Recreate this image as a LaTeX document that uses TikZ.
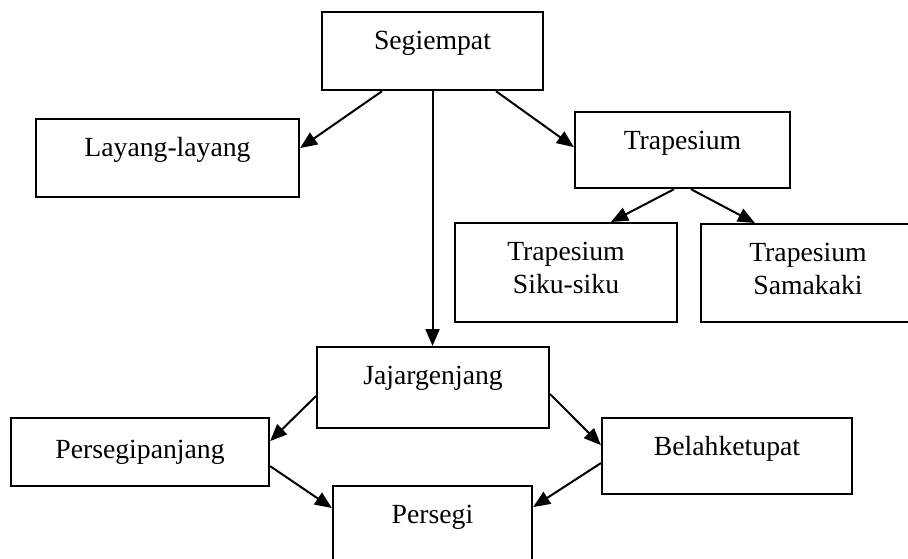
\documentclass[tikz,border=0pt]{standalone}
\usepackage{fontspec}
\setmainfont{Liberation Serif}
\usetikzlibrary{
		calc,
		positioning,
		arrows.meta
	}
\tikzset{
		>={Triangle[length=8.5pt,width=7pt]},
		kotak/.style={draw=black, line width=1.1pt, inner sep=0pt, anchor=north, align=center, text height=18.5pt, font=\fontsize{13.85}{16.5}\selectfont},
		panah/.style={->, line width=1pt}
	}
\begin{document}
\begin{tikzpicture}[x=0.5pt, y=-0.5pt]
		\useasboundingbox (0, 0) rectangle (908, 558);
		\begin{scope}
			\node[kotak, minimum width=110.5pt, text depth=20.5pt] (seg) at (432.5, 11) {Segiempat};
			\node[kotak, minimum width=131.5pt, text depth=20.5pt] (layang) at (167.5, 118) {Layang-layang};
			\node[kotak, minimum width=107.5pt, text depth=19.5pt] (trap) at (682.5, 111) {Trapesium};
			\node[kotak, minimum width=111pt, text height=35pt, text depth=14.5pt] (siku) at (566, 222) {Trapesium\\Siku-siku};
			\node[kotak, minimum width=107pt, text height=35pt, text depth=14pt] (sama) at (808, 223) {Trapesium\\Samakaki};
			\node[kotak, minimum width=116pt, text depth=22pt] (jajar) at (433, 346) {Jajargenjang};
			\node[kotak, minimum width=129pt, text height=20pt, text depth=14pt] (ppanjang) at (140, 417) {Persegipanjang};
			\node[kotak, minimum width=125pt, text depth=19.5pt] (belah) at (727, 417) {Belahketupat};
			\node[kotak, minimum width=99.5pt, text depth=31.5pt] (persegi) at (432.5, 485) {Persegi};
			\draw[panah] ([xshift=-25.25pt]seg.south) -- ([yshift=5pt]layang.east);
			\draw[panah] ([xshift=31.75pt]seg.south) -- ([yshift=1.5pt]trap.west);
			\draw[panah] (seg.south) -- (seg.south |- jajar.north);
			\draw[panah] ([xshift=-4.25pt]trap.south) -- ([xshift=22.5pt]siku.north);
			\draw[panah] ([xshift=4.25pt]trap.south) -- ([xshift=27.5pt]sama.north west);
			\draw[panah] ([yshift=-4.25pt]jajar.west) -- ([yshift=5.5pt]ppanjang.east);
			\draw[panah] ([yshift=-3.25pt]jajar.east) -- ([yshift=5.5pt]belah.west);
			\draw[panah] ([yshift=-7pt]ppanjang.east) -- ([yshift=-11.5pt]persegi.north west);
			\draw[panah] ([yshift=-3.5pt]belah.west) -- ([yshift=-11pt]persegi.north east);
		\end{scope}
	\end{tikzpicture}
\end{document}
